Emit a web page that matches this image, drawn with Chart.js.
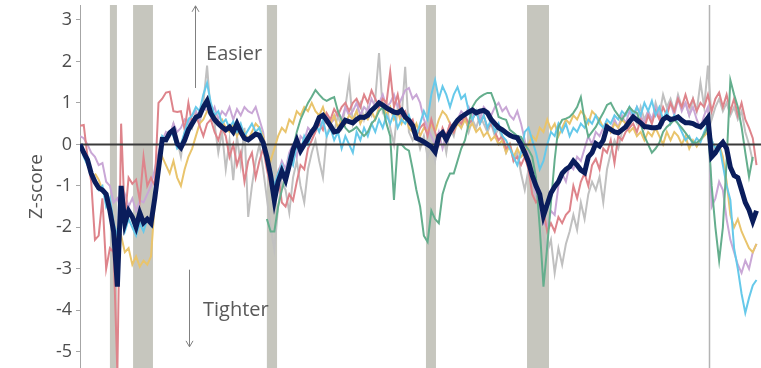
<!DOCTYPE html>
<html>
<head>
<meta charset="utf-8">
<script src="https://cdn.jsdelivr.net/npm/chart.js@4.4.0/dist/chart.umd.min.js"></script>
<style>
  html, body { margin: 0; padding: 0; background: #fff; }
  #wrap { width: 761px; height: 368px; }
</style>
</head>
<body>
<div id="wrap"><canvas id="fciChart"></canvas></div>
<script>
// quarterly series, first point = 1978Q1
const START_YEAR = 1978;
const X_MAX = 2023.55;
const Y_MIN = -5.39;
const Y_MAX = 3.36;
const yTicks = [3, 2, 1, 0, -1, -2, -3, -4, -5];

// recession shading (start, end) in decimal years
const recessions = [[1980.0, 1980.47], [1981.55, 1982.88], [1990.5, 1991.18], [2001.14, 2001.81], [2007.9, 2009.37]];
const markerYear = 2020.07;

// composite index (thick navy)
const composite = [
  0, -0.2, -0.37, -0.7, -0.9, -1.05, -1.1, -1.2, -1.6, -2.1,
  -3.43, -1.0, -1.9, -1.6, -1.75, -1.99, -1.65, -1.89, -1.8, -1.9,
  -1.3, -0.6, 0.12, 0.11, 0.28, 0.35, 0.02, -0.08, 0.1, 0.35,
  0.5, 0.65, 0.7, 0.9, 1.05, 0.75, 0.6, 0.5, 0.42, 0.35,
  0.42, 0.3, 0.5, 0.3, 0.15, 0.11, 0.18, 0.25, 0.22, 0.04,
  -0.3, -0.75, -1.35, -0.9, -0.65, -0.86, -0.5, -0.13, 0.1, -0.15,
  0.0, 0.15, 0.3, 0.42, 0.65, 0.7, 0.58, 0.45, 0.3, 0.32,
  0.45, 0.58, 0.55, 0.52, 0.6, 0.66, 0.65, 0.7, 0.82, 0.9,
  1.0, 0.95, 0.88, 0.83, 0.78, 0.76, 0.82, 0.66, 0.58, 0.45,
  0.15, 0.11, 0.06, 0.0, -0.06, -0.18, 0.2, 0.28, 0.12, 0.3,
  0.45, 0.58, 0.66, 0.72, 0.78, 0.83, 0.76, 0.8, 0.82, 0.76,
  0.6, 0.5, 0.4, 0.35, 0.28, 0.22, 0.18, 0.16, 0.0, -0.2,
  -0.42, -0.75, -1.0, -1.2, -1.72, -1.45, -1.17, -1.02, -0.9, -0.7,
  -0.6, -0.54, -0.4, -0.5, -0.62, -0.68, -0.3, -0.2, 0.02, -0.04,
  0.1, 0.42, 0.36, 0.3, 0.28, 0.35, 0.42, 0.55, 0.66, 0.59,
  0.52, 0.43, 0.42, 0.4, 0.4, 0.42, 0.6, 0.66, 0.6, 0.62,
  0.66, 0.58, 0.52, 0.52, 0.5, 0.45, 0.42, 0.52, 0.64, -0.3,
  -0.2, -0.05, 0.05, -0.1, -0.55, -0.75, -0.8, -1.1, -1.4, -1.58,
  -1.85, -1.6
];

const pinkSeries = [
  0.45, 0.47, -0.3, -0.9, -2.3, -2.2, -1.3, -3.0, -2.5, -2.6,
  -5.5, 0.5, -1.8, -0.8, -0.95, -0.85, -1.35, -0.3, -1.0, -0.8,
  -1.0, 1.0, 1.1, 1.25, 1.27, 0.8, 0.78, 0.8, 0.35, 1.0,
  0.5, 0.7, 0.45, 0.2, 0.5, 0.6, 0.3, 0.1, 0.4, 0.2,
  -0.3, 0.0, -0.5, -0.2, -0.9, -0.4, -0.2, -0.8, -0.4, -0.1,
  -0.6, -1.0, -1.2, -0.7, -1.4, -1.5, -1.2, -1.35, -0.9, -0.5,
  -0.6, -0.1, 0.1, 0.3, 0.5, 0.35, 0.75, 0.6, 0.85, 0.7,
  0.9, 1.0, 0.8, 1.0, 1.1, 0.9, 1.2, 1.0, 1.3, 1.1,
  0.9, 1.1, 1.0, 1.75, 0.9, 1.2, 0.7, 0.8, 0.5, 0.6,
  0.2, 0.4, 0.5, 0.2, 0.6, 0.3, 0.0, 0.4, 0.2, 0.5,
  0.3, 0.6, 0.5, 0.7, 0.5, 0.6, 0.8, 0.5, 0.7, 0.4,
  0.5, 0.3, 0.1, 0.2, -0.1, 0.0, -0.4, -0.3, -0.5, -0.3,
  -0.6, -1.2, -1.4, -1.3, -1.6, -2.1, -1.9, -2.1, -1.75, -1.9,
  -1.7, -1.6, -1.0, -1.3, -0.9, -0.7, -1.0, -0.5, -0.35, -0.6,
  -0.1, -0.2, 0.1, -0.45, 0.2, 0.1, 0.3, 0.4, 0.5, 0.3,
  0.6, 0.4, 0.7, 0.5, 0.8, 0.6, 0.9, 0.7, 1.0, 0.8,
  1.1, 0.9, 1.2, 0.9, 1.1, 0.8, 1.0, 0.9, 1.2, 0.8,
  1.1, 1.25, 0.9, 1.2, 0.8, 1.1, 0.7, 1.0, 0.6, 0.4,
  0.15, -0.5
];

const purpleSeries = [
  0.2, 0.15, 0.0, -0.2, -0.3, -0.5, -0.45, -0.9, -1.0, -1.4,
  -1.3, -1.6, -1.2, -1.5, -1.3, -1.6, -1.35, -1.4, -1.2, -1.0,
  -0.6, -0.2, 0.1, 0.3, 0.2, 0.5, 0.3, 0.4, 0.6, 0.5,
  0.7, 0.8, 0.6, 0.9, 0.8, 0.7, 0.9, 0.6, 0.8, 0.7,
  0.9, 0.6, 0.85, 0.7, 0.9, 0.8, 0.75, 0.9, 0.6, 0.3,
  -0.4, -0.9, -1.1, -0.7, -0.4, -0.6, -0.2, 0.0, -0.3, 0.2,
  0.1, 0.4, 0.3, 0.5, 0.6, 0.4, 0.7, 0.5, 0.6, 0.8,
  0.6, 0.9, 0.7, 0.8, 1.0, 0.7, 0.9, 0.8, 1.1, 0.9,
  1.0, 1.2, 0.9, 1.0, 1.2, 0.9, 1.1, 1.3, 1.36, 1.1,
  1.2, 1.0, 0.6, 0.4, 0.2, 0.0, 0.3, -0.1, 0.2, 0.5,
  0.3, 0.6, 0.8, 0.7, 0.9, 0.7, 0.8, 0.6, 0.9, 0.8,
  0.7, 0.9, 1.0, 0.8, 0.9, 0.7, 0.6, 0.8, 0.5, 0.1,
  -0.3, -0.8, -1.2, -1.5, -1.9, -2.0, -1.6, -1.7, -1.0, -0.7,
  -0.9, -0.5, -0.6, -0.3, -0.4, -0.1, 0.2, 0.0, 0.3, 0.2,
  0.4, 0.5, 0.3, 0.6, 0.4, 0.7, 0.5, 0.8, 0.6, 0.9,
  0.7, 0.5, 0.8, 0.6, 0.9, 0.7, 0.5, 0.8, 1.0, 0.7,
  1.1, 0.8, 1.0, 0.7, 0.9, 0.6, 0.4, 0.7, 0.9, -1.5,
  -1.3, -0.9, -1.1, -1.8, -2.3, -2.6, -2.9, -3.1, -2.8, -3.0,
  -2.6, -2.4
];

// starts 1979Q1
const yellowStart = 4;
const yellowSeries = [
  -0.7, -0.85, -1.1, -1.3, -1.5, -2.0, -2.3, -2.2, -2.6, -2.5,
  -2.9, -2.7, -2.95, -2.8, -2.9, -2.7, -1.4, -0.5, -0.3, -0.5,
  -0.7, -0.4, -0.8, -1.0, -0.6, -0.3, -0.1, 0.2, 0.5, 0.6,
  0.8, 0.9, 0.7, 0.5, 0.6, 0.4, 0.3, 0.5, 0.2, 0.4,
  0.3, 0.1, 0.3, 0.5, 0.4, 0.2, -0.2, -0.4, -0.1, 0.2,
  0.4, 0.3, 0.6, 0.5, 0.8, 0.7, 0.9, 0.8, 1.0, 0.8,
  0.7, 0.9, 0.6, 0.5, 0.7, 0.4, 0.6, 0.5, 0.7, 0.6,
  0.8, 0.5, 0.7, 0.6, 0.8, 0.6, 0.9, 1.0, 0.7, 0.9,
  0.6, 0.8, 0.5, 0.7, 0.4, 0.3, 0.5, 0.2, 0.4, 0.3,
  0.5, 0.3, 0.6, 0.8, 0.7, 0.5, 0.3, 0.5, 0.4, 0.6,
  0.4, 0.5, 0.3, 0.4, 0.2, 0.3, 0.1, 0.2, 0.0, 0.1,
  -0.2, 0.0, -0.3, -0.1, -0.3, -0.2, 0.0, 0.2, 0.1, 0.4,
  0.3, 0.6, 0.35, 0.5, 0.2, 0.4, 0.6, 0.5, 0.7, 0.6,
  0.8, 0.7, 0.5, 0.8, 0.7, 0.6, 0.4, 0.5, 0.3, 0.5,
  0.4, 0.6, 0.5, 0.3, 0.4, 0.2, 0.3, 0.1, 0.3, 0.2,
  0.4, 0.2, 0.0, 0.3, 0.1, 0.3, 0.2, 0.0, 0.2, -0.1,
  0.1, -0.05, 0.1, 0.2, 0.3, 0.1, -0.1, 0.0, -0.3, -0.9,
  -1.7, -2.0, -1.8, -2.1, -2.3, -2.5, -2.6, -2.4
];

const cyanSeries = [
  0.0, -0.3, -0.5, -0.7, -0.9, -1.1, -1.0, -1.5, -1.3, -1.9,
  -2.2, -1.6, -2.1, -1.8, -2.0, -2.2, -1.9, -2.1, -1.8, -1.95,
  -1.2, -0.4, 0.2, 0.1, 0.3, 0.2, -0.1, 0.0, 0.3, 0.6,
  0.7, 0.9, 0.8, 1.2, 1.48, 1.0, 0.7, 0.8, 0.5, 0.6,
  0.4, 0.55, 0.3, 0.5, 0.2, 0.35, 0.5, 0.3, 0.4, 0.1,
  -0.4, -0.6, -1.0, -0.7, -0.5, -0.8, -0.3, -0.5, 0.0, -0.2,
  0.2, 0.0, 0.3, 0.5, 0.3, 0.6, 0.2, 0.4, 0.1, 0.3,
  -0.1, 0.2, 0.0, -0.2, 0.3, 0.1, 0.4, 0.2, 0.5, 0.3,
  0.6, 0.4, 0.7, 0.5, 0.75, 0.4, 0.6, 0.5, 0.7, 0.4,
  0.2, 0.5, 0.8, 0.6, 1.2, 1.55, 1.1, 1.4, 1.2, 0.9,
  1.2, 1.38, 1.1, 1.2, 0.8, 0.6, 0.8, 0.5, 0.7, 0.4,
  0.6, 0.3, 0.5, 0.2, 0.1, -0.1, -0.3, -0.5, -0.2, 0.3,
  0.4, 0.1, -0.2, -0.6, -0.4, 0.0, 0.3, 0.2, 0.5, 0.3,
  0.5, 0.2, 0.4, 0.3, 0.5, 0.4, 0.6, 0.5, 0.7, 0.5,
  0.4, 0.6, 0.5, 0.7, 0.6, 0.8, 0.7, 0.9, 0.7, 0.9,
  0.7, 1.0, 0.8, 1.05, 0.7, 0.9, 0.6, 0.8, 0.5, 0.7,
  0.5, 0.3, 0.1, 0.2, 0.0, 0.15, 0.05, 0.3, 0.5, 0.1,
  -0.1, 0.0, -0.5, -1.0, -1.34, -2.5, -3.0, -3.6, -4.06, -3.7,
  -3.4, -3.27
];

// starts 1990Q3
const greenStart = 50;
const greenSeries = [
  -1.8, -2.1, -2.1, -1.5, -1.1, -0.8, -0.5, -0.1, 0.3, 0.6,
  0.8, 1.0, 1.15, 1.31, 1.2, 1.1, 1.05, 1.1, 1.14, 0.8,
  0.59, 0.4, 0.3, 0.35, 0.42, 0.3, 0.2, 0.3, 0.5, 0.6,
  0.8, 0.9, 0.5, 0.2, -1.34, 0.0, 0.0, -0.1, -0.15, -0.6,
  -1.1, -1.5, -2.2, -2.35, -1.6, -1.8, -1.9, -1.2, -0.9, -0.7,
  -0.7, -0.4, -0.1, 0.1, 0.5, 0.9, 1.05, 1.14, 1.2, 1.24,
  1.24, 1.0, 0.66, 0.62, 0.59, 0.35, 0.28, 0.2, 0.18, 0.0,
  -0.13, -0.3, -0.8, -2.0, -3.43, -2.47, -1.4, -0.37, 0.42, 0.59,
  0.62, 0.66, 0.76, 0.9, 1.14, 0.59, 0.18, 0.3, 0.42, 0.6,
  0.76, 0.95, 1.0, 0.83, 0.7, 0.59, 0.75, 0.9, 0.8, 0.76,
  0.5, 0.2, 0.0, -0.2, -0.1, 0.04, 0.3, 0.42, 0.5, 0.59,
  0.5, 0.4, 0.28, 0.15, 0.05, 0.04, 0.11, 0.25, 0.42, -1.0,
  -2.0, -2.8, -2.0, -0.4, 1.55, 1.2, 0.9, 0.42, -0.2, -0.78,
  -0.3
];

// starts 1984Q1
const greyStart = 24;
const greySeries = [
  0.2, 0.5, 0.1, -0.3, 0.3, 0.6, 0.4, 0.8, 0.5, 1.0,
  1.9, 0.7, 0.5, -0.2, 0.3, -0.6, 0.1, -0.86, 0.2, -0.5,
  0.4, -1.75, -1.0, -0.4, 0.0, -0.6, -1.3, -2.0, -2.54, -1.5,
  -0.9, -1.1, -1.65, -0.8, -0.4, -1.0, -1.4, -0.6, -0.2, 0.1,
  -0.4, -0.8, 0.2, 0.5, 0.3, 0.7, 0.4, 0.9, 1.55, 0.5,
  0.8, 1.0, 0.6, 0.9, 0.7, 1.1, 2.2, 0.8, 1.0, 0.4,
  0.0, 0.9, 0.6, 1.87, 0.3, 0.1, 0.3, -0.1, 0.2, -0.3,
  0.0, -0.4, 0.1, 0.3, -0.2, 0.4, 0.2, 0.6, 0.4, 0.7,
  0.3, 0.6, 0.4, 0.7, 0.5, 0.3, 0.5, 0.2, 0.4, 0.1,
  -0.2, 0.0, -0.4, -0.2, -0.7, -1.1, -0.6, -1.0, -1.3, -1.6,
  -2.2, -2.6, -2.3, -3.1, -2.5, -2.9, -2.4, -2.1, -1.7, -2.06,
  -1.4, -1.8, -1.2, -0.9, -1.1, -0.78, -1.4, -0.6, -0.2, 0.1,
  -0.1, 0.3, 0.5, 0.4, 0.7, 0.5, 0.9, 0.6, 0.8, 0.5,
  1.0, 0.7, 1.2, 0.9, 1.1, 0.8, 1.2, 0.9, 1.0, 0.7,
  1.1, 0.8, 1.5, 0.9, 1.9, 0.6, 0.9, 1.1, 0.8, 1.0,
  0.7, 0.9, 0.6, 0.8, 0.3, 0.0, -0.4
];

function toPoints(values, offset) {
    return values.map((v, i) => ({ x: START_YEAR + (offset + i) / 4, y: v }));
}

function thinLine(label, values, offset, color) {
    return {
        label,
        data: toPoints(values, offset),
        borderColor: color,
        borderWidth: 2,
        pointRadius: 0,
        tension: 0
    };
}

// grey recession bands + 2020 marker, drawn under the lines
const backdropPlugin = {
    id: "backdrop",
    beforeDatasetsDraw(chart) {
        const { ctx, chartArea, scales: { x } } = chart;
        ctx.save();
        ctx.fillStyle = "#c6c6be";
        recessions.forEach(([a, b]) => {
            const x0 = x.getPixelForValue(a);
            const x1 = x.getPixelForValue(b);
            ctx.fillRect(x0, chartArea.top, x1 - x0, chart.height - chartArea.top);
        });
        const xm = Math.round(x.getPixelForValue(markerYear)) + 0.5;
        ctx.strokeStyle = "#b4b4b4";
        ctx.lineWidth = 1.5;
        ctx.beginPath();
        ctx.moveTo(xm, chartArea.top);
        ctx.lineTo(xm, chart.height);
        ctx.stroke();
        ctx.restore();
    }
};

// "Easier" / "Tighter" notes with arrows
const notesPlugin = {
    id: "notes",
    afterDatasetsDraw(chart) {
        const { ctx, scales: { x, y } } = chart;
        ctx.save();
        ctx.strokeStyle = "#808080";
        ctx.lineWidth = 1;

        const ux = Math.round(x.getPixelForValue(1985.69)) + 0.5;
        const uTop = y.getPixelForValue(3.34);
        const uBot = y.getPixelForValue(1.36);
        ctx.beginPath();
        ctx.moveTo(ux, uBot); ctx.lineTo(ux, uTop);
        ctx.moveTo(ux - 3.5, uTop + 6); ctx.lineTo(ux, uTop); ctx.lineTo(ux + 3.5, uTop + 6);
        ctx.stroke();

        const dx = Math.round(x.getPixelForValue(1985.29)) + 0.5;
        const dTop = y.getPixelForValue(-3.02);
        const dBot = y.getPixelForValue(-4.88);
        ctx.beginPath();
        ctx.moveTo(dx, dTop); ctx.lineTo(dx, dBot);
        ctx.moveTo(dx - 3.5, dBot - 6); ctx.lineTo(dx, dBot); ctx.lineTo(dx + 3.5, dBot - 6);
        ctx.stroke();

        ctx.fillStyle = "#595959";
        ctx.font = "20px 'Open Sans', sans-serif";
        ctx.textAlign = "left";
        ctx.textBaseline = "middle";
        ctx.fillText("Easier", x.getPixelForValue(1986.43), y.getPixelForValue(2.18));
        ctx.fillText("Tighter", x.getPixelForValue(1986.23), y.getPixelForValue(-4.01));
        ctx.restore();
    }
};

Chart.defaults.font.family = "'Open Sans', sans-serif";

new Chart(document.getElementById("fciChart"), {
    type: "line",
    data: {
        datasets: [
            {
                label: "Composite",
                data: toPoints(composite, 0),
                borderColor: "#0a1d5c",
                borderWidth: 5,
                pointRadius: 0,
                tension: 0
            },
            {
                label: "Zero",
                data: [{ x: START_YEAR, y: 0 }, { x: X_MAX, y: 0 }],
                borderColor: "#3a3a3a",
                borderWidth: 2,
                pointRadius: 0
            },
            thinLine("Green", greenSeries, greenStart, "#64ae8d"),
            thinLine("Cyan", cyanSeries, 0, "#66c9ea"),
            thinLine("Pink", pinkSeries, 0, "#de848b"),
            thinLine("Yellow", yellowSeries, yellowStart, "#e9c46c"),
            thinLine("Purple", purpleSeries, 0, "#c9a7d6"),
            thinLine("Grey", greySeries, greyStart, "#c0c0c0")
        ]
    },
    options: {
        responsive: true,
        maintainAspectRatio: false,
        animation: false,
        layout: { padding: { top: 5, right: 0, bottom: 0, left: 0 } },
        plugins: {
            legend: { display: false },
            tooltip: { enabled: false }
        },
        scales: {
            x: {
                type: "linear",
                min: START_YEAR,
                max: X_MAX,
                display: false
            },
            y: {
                min: Y_MIN,
                max: Y_MAX,
                afterBuildTicks: (scale) => {
                    scale.ticks = yTicks.map(v => ({ value: v }));
                },
                afterFit: (scale) => {
                    scale.width = 80;
                    scale.paddingTop = 0;
                    scale.paddingBottom = 0;
                },
                ticks: {
                    color: "#4d4d4d",
                    font: { size: 18 },
                    padding: 4
                },
                grid: {
                    drawOnChartArea: false,
                    drawTicks: true,
                    tickLength: 4,
                    color: "#a6a6a6"
                },
                border: { color: "#a6a6a6", width: 1 },
                title: {
                    display: true,
                    text: "Z-score",
                    color: "#555",
                    font: { size: 19 },
                    padding: { top: 25, bottom: 0 }
                }
            }
        }
    },
    plugins: [backdropPlugin, notesPlugin]
});
</script>
</body>
</html>
